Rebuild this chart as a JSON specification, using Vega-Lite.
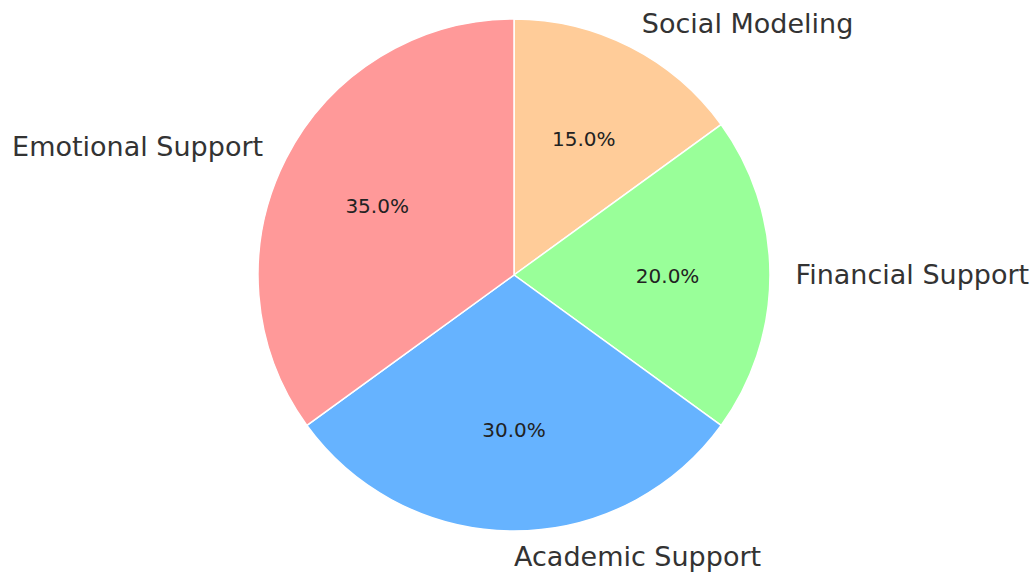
{
  "$schema": "https://vega.github.io/schema/vega-lite/v6.json",
  "autosize": "none",
  "width": 1028,
  "height": 550,
  "padding": {"left": 0, "top": 0, "right": 7, "bottom": 23},
  "background": "white",
  "config": {"view": {"stroke": null}},
  "data": {"values": [
    {"category": "Social Modeling", "share": 0.15},
    {"category": "Financial Support", "share": 0.20},
    {"category": "Academic Support", "share": 0.30},
    {"category": "Emotional Support", "share": 0.35}
  ]},
  "encoding": {
    "theta": {"field": "share", "type": "quantitative", "stack": true},
    "order": {"field": "share", "type": "quantitative", "sort": "ascending"},
    "color": {
      "field": "category", "type": "nominal", "legend": null,
      "scale": {
        "domain": ["Emotional Support", "Academic Support", "Financial Support", "Social Modeling"],
        "range": ["#ff9999", "#66b3ff", "#99ff99", "#ffcc99"]
      }
    }
  },
  "layer": [
    {"mark": {"type": "arc", "outerRadius": 256, "stroke": "white", "strokeWidth": 1.5}},
    {
      "mark": {"type": "text", "radius": 153.6, "font": "DejaVu Sans", "fontSize": 20, "dy": 2},
      "encoding": {"text": {"field": "share", "type": "quantitative", "format": ".1%"}, "color": {"value": "#222222"}}
    },
    {
      "mark": {"type": "text", "radius": 281.6, "font": "DejaVu Sans", "fontSize": 27, "align": "right", "baseline": "middle", "dy": 1},
      "encoding": {
        "text": {"condition": {"test": "datum.category === 'Emotional Support'", "field": "category"}, "value": ""},
        "color": {"value": "#333333"}
      }
    },
    {
      "mark": {"type": "text", "radius": 281.6, "font": "DejaVu Sans", "fontSize": 27, "align": "left", "baseline": "middle", "dy": 1},
      "encoding": {
        "text": {"condition": {"test": "datum.category !== 'Emotional Support'", "field": "category"}, "value": ""},
        "color": {"value": "#333333"}
      }
    }
  ]
}
